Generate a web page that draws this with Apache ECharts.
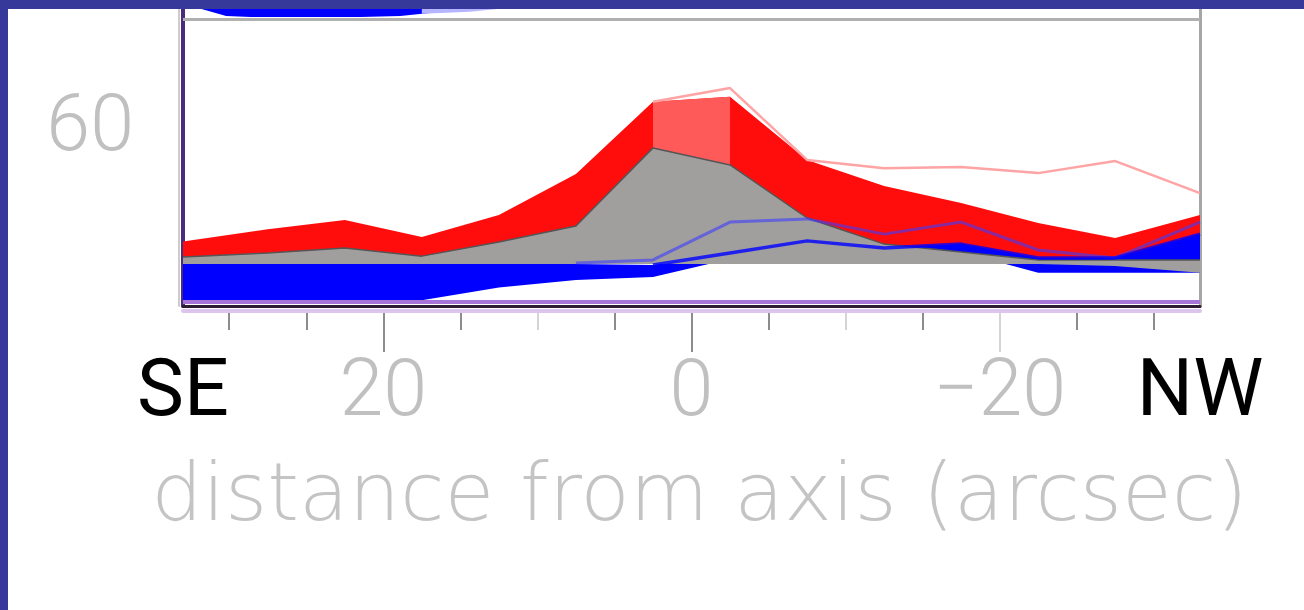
<!DOCTYPE html>
<html><head><meta charset="utf-8">
<script src="https://cdn.jsdelivr.net/npm/echarts@6/dist/echarts.min.js"></script>
<style>
html,body{margin:0;padding:0;background:#fff;}
#frame{position:absolute;left:0;top:0;width:1304px;height:610px;box-sizing:border-box;border-top:9px solid #36389a;border-left:8px solid #36389a;background:#fff;}
#chart{position:absolute;left:8px;top:9px;width:1296px;height:601px;}
</style></head><body>
<div id="frame"></div><div id="chart"></div>
<script>
// distance from axis (arcsec), SE positive on the left, NW negative on the right
const distance   = [33, 27.5, 22.5, 17.5, 12.5, 7.5, 2.5, -2.5, -7.5, -12.5, -17.5, -22.5, -27.5, -33];
const redTop     = [22.0, 26.2, 29.3, 23.5, 31.0, 45.0, 69.6, 71.3, 49.8, 40.9, 35.1, 28.3, 23.2, 31.0];
const redBottom  = [14.3, 14.3, 14.3, 14.3, 14.3, 14.3, 14.3, 14.3, 14.3, 14.3, 14.3, 14.3, 14.3, 14.3];
const grayTop    = [16.7, 18.1, 19.8, 17.0, 21.8, 27.3, 53.9, 48.1, 30.0, 21.1, 18.4, 15.7, 15.7, 15.7];
const grayBottom = [14.3, 14.3, 14.3, 14.3, 14.3, 14.3, 14.3, 14.3, 14.3, 14.3, 14.3, 14.3, 13.6, 11.3];
const blueTop    = [14.3, 14.3, 14.3, 14.3, 14.3, 14.3, 14.0, 18.1, 22.2, 19.8, 21.1, 16.4, 16.4, 24.5];
const blueBottom = [2.0, 2.0, 2.0, 2.0, 6.3, 8.9, 9.9, 16.0, 15.0, 16.4, 18.4, 11.3, 11.3, 11.3];
const coreTop    = [null, null, null, null, null, null, 69.6, 71.3, null, null, null, null, null, null];
const upperBlue  = [null, null, null, null, null, 14.7, 15.7, 28.6, 29.7, 24.5, 28.6, 19.1, 16.4, 28.6];
const lowerBlue  = [null, null, null, null, null, null, 14.0, 18.1, 22.2, 19.8, 21.1, 16.4, 16.4, 24.5];
const pinkLine   = [null, null, null, null, null, null, 69.6, 74.3, 49.8, 47.0, 47.4, 45.3, 49.4, 38.5];
// strip of the panel above (cut by the frame)
const stripX      = [31.8, 30.2, 28.6, 21.5, 18.9, 17.0, 16.3];
const stripBottom = [101.25, 98.9, 98.5, 98.5, 98.9, 99.9, 101.25];
const stripTop    = [101.25, 101.25, 101.25, 101.25, 101.25, 101.25, 101.25];
const tailX       = [17.5, 14.4, 12.6];
const tailBottom  = [99.6, 100.3, 101.25];
const tailTop     = [101.25, 101.25, 101.25];
// axes
const xMin = -33, xMax = 33, yMin = 0, yMax = 101.25;
const frameLineY = 97.67;
const baseLineY = 1.36;
const minorTicksDark  = [30, 25, 15, 5, -5, -15, -25, -30];
const minorTicksLight = [10, -10];
const majorTicksDark  = [20, 0];
const majorTicksLight = [-20];
const xLabelValues = [33, 20, 0, -20, -33];
const xLabelTexts  = ['SE', '20', '0', '\u221220', 'NW'];
const yLabelValues = [60];
const xTitle = 'distance from axis (arcsec)';

function band(xArr, lo, hi, color, z) {
  return {
    type: 'custom', z: z, silent: true, animation: false,
    data: [[xArr[0], hi[0]]],
    renderItem: function (params, api) {
      const up = [], down = [];
      for (let i = 0; i < xArr.length; i++) {
        if (hi[i] == null || lo[i] == null) continue;
        up.push(api.coord([xArr[i], hi[i]]));
        down.push(api.coord([xArr[i], lo[i]]));
      }
      return { type: 'polygon', shape: { points: up.concat(down.reverse()) }, style: { fill: color } };
    }
  };
}
function line(vals, color, width, z) {
  const d = [];
  distance.forEach((x, i) => { if (vals[i] != null) d.push([x, vals[i]]); });
  return { type: 'line', data: d, symbol: 'none', silent: true, animation: false, z: z,
           lineStyle: { color: color, width: width } };
}
function tickAxis(vals, len, color) {
  return { type: 'value', min: xMin, max: xMax, inverse: true, position: 'bottom', offset: 7,
    axisLine: { show: false, onZero: false }, splitLine: { show: false }, axisLabel: { show: false },
    axisTick: { show: true, customValues: vals, length: len, lineStyle: { color: color, width: 2 } } };
}

const chart = echarts.init(document.getElementById('chart'), null, { renderer: 'canvas' });
const numStyle = { color: '#c0c0c0', fontSize: 79, fontWeight: 300, fontFamily: 'Roboto', lineHeight: 79 };
const dirStyle = { color: '#000000', fontSize: 79, fontWeight: 400, fontFamily: 'Roboto', lineHeight: 79 };

chart.setOption({
  animation: false,
  backgroundColor: '#ffffff',
  grid: { left: 175, right: 104, top: 0, bottom: 304, containLabel: false },
  xAxis: [
    { type: 'value', min: xMin, max: xMax, inverse: true, position: 'bottom',
      axisLine: { show: true, onZero: false, lineStyle: { color: '#2d1c2f', width: 3 } },
      axisTick: { show: false }, splitLine: { show: false },
      axisLabel: {
        show: true, customValues: xLabelValues, margin: 50, showMinLabel: true, showMaxLabel: true,
        formatter: function (v) {
          const i = xLabelValues.indexOf(v);
          const t = i >= 0 ? xLabelTexts[i] : '';
          return (t === 'SE' || t === 'NW') ? '{dir|' + t + '}' : '{num|' + t + '}';
        },
        rich: { num: numStyle, dir: dirStyle }
      },
      name: xTitle, nameLocation: 'middle', nameGap: 152,
      nameTextStyle: { color: '#c4c4c4', fontSize: 81, fontWeight: 200, fontFamily: 'DejaVu Sans', lineHeight: 81, padding: [0, 0, 0, 16] }
    },
    { type: 'value', min: xMin, max: xMax, inverse: true, position: 'bottom', offset: 5,
      axisLine: { show: true, onZero: false, lineStyle: { color: '#dcc4ec', width: 4 } },
      axisTick: { show: false }, axisLabel: { show: false }, splitLine: { show: false } },
    tickAxis(minorTicksDark, 17, '#8c8c8c'),
    tickAxis(minorTicksLight, 17, '#d4d4d4'),
    tickAxis(majorTicksDark, 39, '#8c8c8c'),
    tickAxis(majorTicksLight, 39, '#d4d4d4')
  ],
  yAxis: [
    { type: 'value', min: yMin, max: yMax, position: 'left',
      axisLine: { show: true, onZero: false, lineStyle: { color: '#4a2c7d', width: 4 } },
      axisTick: { show: false }, splitLine: { show: false },
      axisLabel: { show: true, customValues: yLabelValues, margin: 49, color: '#c0c0c0',
                   fontSize: 79, fontWeight: 300, fontFamily: 'Roboto', lineHeight: 79 } },
    { type: 'value', min: yMin, max: yMax, position: 'left', offset: 4,
      axisLine: { show: true, onZero: false, lineStyle: { color: '#cccccc', width: 2 } },
      axisTick: { show: false }, axisLabel: { show: false }, splitLine: { show: false } },
    { type: 'value', min: yMin, max: yMax, position: 'right',
      axisLine: { show: true, onZero: false, lineStyle: { color: '#a6a6a6', width: 3 } },
      axisTick: { show: false }, axisLabel: { show: false }, splitLine: { show: false } }
  ],
  series: [
    band(stripX, stripBottom, stripTop, '#0000ff', 1),
    band(tailX, tailBottom, tailTop, '#b4b4ff', 1),
    band(distance, redBottom, redTop, '#ff0d0d', 2),
    band(distance, grayTop, coreTop, '#ff5a5a', 3),
    band(distance, blueBottom, blueTop, '#0000ff', 4),
    band(distance, grayBottom, grayTop, '#a19e9e', 5),
    Object.assign(line(grayTop, '#555555', 1.5, 6), {
      markLine: { silent: true, symbol: 'none', label: { show: false },
        data: [
          { yAxis: frameLineY, lineStyle: { color: '#b0b0b0', width: 3, type: 'solid' } },
          { yAxis: baseLineY, lineStyle: { color: '#a673d8', width: 4, type: 'solid' } }
        ] }
    }),
    line(upperBlue, 'rgba(60,60,255,0.6)', 3, 7),
    line(lowerBlue, 'rgba(0,0,255,0.8)', 3.5, 8),
    line(pinkLine, '#ffa4a4', 2.5, 9)
  ]
});
</script>
</body></html>
